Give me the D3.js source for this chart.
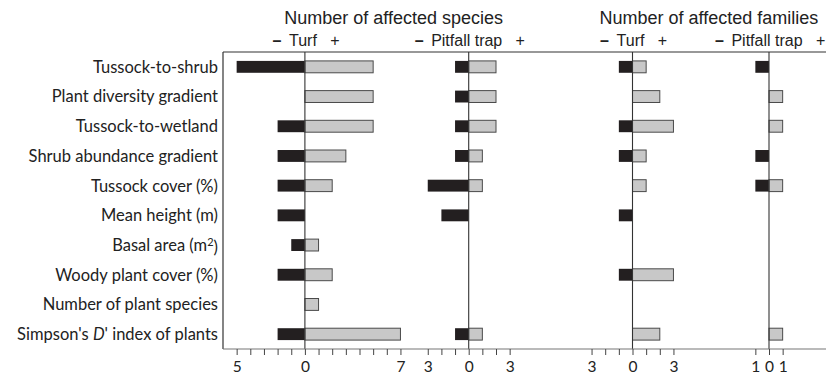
<!DOCTYPE html>
<html>
<head>
<meta charset="utf-8">
<script src="https://cdn.jsdelivr.net/npm/d3@7"></script>
<style>
  body { margin: 0; background: #fff; }
  svg { display: block; }
  .rowlab { font-family: Lato, "Open Sans", sans-serif; font-size: 16.5px; fill: #222; }
  .title { font-family: "Liberation Sans", Arial, sans-serif; font-size: 18px; fill: #222; }
  .sub { font-family: "Liberation Sans", Arial, sans-serif; font-size: 16px; fill: #222; }
  .tick text { font-family: Lato, "Open Sans", sans-serif; font-size: 15.5px; fill: #222; }
</style>
</head>
<body>
<svg id="chart" width="826" height="375"></svg>
<script>
// categories (top to bottom)
const categories = [
    "Tussock-to-shrub",
    "Plant diversity gradient",
    "Tussock-to-wetland",
    "Shrub abundance gradient",
    "Tussock cover (%)",
    "Mean height (m)",
    "Basal area (m2)",
    "Woody plant cover (%)",
    "Number of plant species",
    "Simpson's D' index of plants"
];

// number of negatively / positively affected taxa
const turfSpeciesNeg     = [-5, 0, -2, -2, -2, -2, -1, -2, 0, -2];
const turfSpeciesPos     = [ 5, 5,  5,  3,  2,  0,  1,  2, 1,  7];
const pitfallSpeciesNeg  = [-1, -1, -1, -1, -3, -2, 0, 0, 0, -1];
const pitfallSpeciesPos  = [ 2,  2,  2,  1,  1,  0, 0, 0, 0,  1];
const turfFamiliesNeg    = [-1, 0, -1, -1, 0, -1, 0, -1, 0, 0];
const turfFamiliesPos    = [ 1, 2,  3,  1, 1,  0, 0,  3, 0, 2];
const pitfallFamiliesNeg = [-1, 0, 0, -1, -1, 0, 0, 0, 0, 0];
const pitfallFamiliesPos = [ 0, 1, 1,  0,  1, 0, 0, 0, 0, 1];

// axis extents of each panel
const panelNames = ["Turf", "Pitfall trap", "Turf", "Pitfall trap"];
const panelDomains = [[-5, 7], [-3, 3], [-3, 3], [-1, 1]];
const titles = ["Number of affected species", "Number of affected families"];

const panels = [
    { neg: turfSpeciesNeg, pos: turfSpeciesPos, offset: 0 },
    { neg: pitfallSpeciesNeg, pos: pitfallSpeciesPos, offset: 12 },
    { neg: turfFamiliesNeg, pos: turfFamiliesPos, offset: 24 },
    { neg: pitfallFamiliesNeg, pos: pitfallFamiliesPos, offset: 34 }
];

const svg = d3.select("#chart");
const plotTop = 52, plotBottom = 349, plotLeft = 223, plotRight = 826;

// one shared unit scale for all four panels
const x = d3.scaleLinear().domain([-6, 38]).range([plotLeft, plotLeft + 44 * 13.65]);

const y = d3.scaleBand()
    .domain(categories)
    .range([plotTop, plotBottom])
    .paddingInner(0.6)
    .paddingOuter(0.3);

// frame
svg.append("line")
    .attr("x1", plotLeft).attr("x2", plotRight).attr("y1", plotTop).attr("y2", plotTop)
    .attr("stroke", "#333").attr("stroke-width", 1.2);
svg.append("line")
    .attr("x1", plotLeft).attr("x2", plotLeft).attr("y1", plotTop).attr("y2", plotBottom)
    .attr("stroke", "#333").attr("stroke-width", 1.2);

// row labels
const labels = svg.append("g");
categories.forEach(c => {
    const t = labels.append("text")
        .attr("class", "rowlab")
        .attr("x", 218)
        .attr("y", y(c) + y.bandwidth() / 2)
        .attr("dy", "0.36em")
        .attr("text-anchor", "end");
    if (c === "Basal area (m2)") {
        t.append("tspan").text("Basal area (m");
        t.append("tspan").attr("dy", "-0.42em").attr("font-size", "11px").text("2");
        t.append("tspan").attr("dy", "0.42em").text(")");
    } else if (c.indexOf("D'") !== -1) {
        t.append("tspan").text("Simpson's ");
        t.append("tspan").attr("font-style", "italic").text("D");
        t.append("tspan").text("' index of plants");
    } else {
        t.text(c);
    }
});

// bars
panels.forEach(p => {
    const g = svg.append("g");
    const rows = categories.map((c, i) => ({ cat: c, neg: p.neg[i], pos: p.pos[i] }));

    g.selectAll(".neg")
        .data(rows.filter(d => d.neg < 0))
        .enter().append("rect")
        .attr("x", d => x(p.offset + d.neg))
        .attr("y", d => y(d.cat))
        .attr("width", d => x(p.offset) - x(p.offset + d.neg))
        .attr("height", y.bandwidth())
        .attr("fill", "#231f20");

    g.selectAll(".pos")
        .data(rows.filter(d => d.pos > 0))
        .enter().append("rect")
        .attr("x", x(p.offset))
        .attr("y", d => y(d.cat))
        .attr("width", d => x(p.offset + d.pos) - x(p.offset))
        .attr("height", y.bandwidth())
        .attr("fill", "#c8c8c8")
        .attr("stroke", "#4a4a4a")
        .attr("stroke-width", 1);

    // zero line
    g.append("line")
        .attr("x1", x(p.offset)).attr("x2", x(p.offset))
        .attr("y1", plotTop).attr("y2", plotBottom)
        .attr("stroke", "#333").attr("stroke-width", 1.1);
});

// bottom axis line
svg.append("line")
    .attr("x1", plotLeft).attr("x2", plotRight).attr("y1", plotBottom).attr("y2", plotBottom)
    .attr("stroke", "#777").attr("stroke-width", 1.2);

// axes per panel
panels.forEach((p, i) => {
    const [lo, hi] = panelDomains[i];
    const s = d3.scaleLinear().domain([lo, hi]).range([x(p.offset + lo), x(p.offset + hi)]);
    const axis = d3.axisBottom(s)
        .tickValues(d3.range(lo, hi + 1))
        .tickSize(6)
        .tickSizeOuter(0)
        .tickPadding(6)
        .tickFormat(v => (v === lo || v === 0 || v === hi) ? Math.abs(v) : "");
    const ag = svg.append("g")
        .attr("transform", `translate(0,${plotBottom})`)
        .call(axis);
    ag.select(".domain").remove();
    ag.selectAll(".tick line").attr("stroke", "#444");
});

// panel sub-headers: "– Turf +"
panels.forEach((p, i) => {
    const cx = x(p.offset) - 2;
    const t = svg.append("text")
        .attr("class", "sub")
        .attr("x", cx).attr("y", 46)
        .attr("text-anchor", "middle")
        .text(panelNames[i]);
    const w = t.node().getComputedTextLength();
    svg.append("text")
        .attr("class", "sub")
        .attr("x", cx - w / 2 - 12).attr("y", 46)
        .attr("text-anchor", "middle")
        .attr("font-weight", "bold")
        .text("\u2013");
    svg.append("text")
        .attr("class", "sub")
        .attr("x", cx + w / 2 + 18).attr("y", 46)
        .attr("text-anchor", "middle")
        .text("+");
});

// titles
svg.append("text").attr("class", "title")
    .attr("x", x(6.5)).attr("y", 24).attr("text-anchor", "middle")
    .text(titles[0]);
svg.append("text").attr("class", "title")
    .attr("x", x(29.6)).attr("y", 24).attr("text-anchor", "middle")
    .text(titles[1]);
</script>
</body>
</html>
